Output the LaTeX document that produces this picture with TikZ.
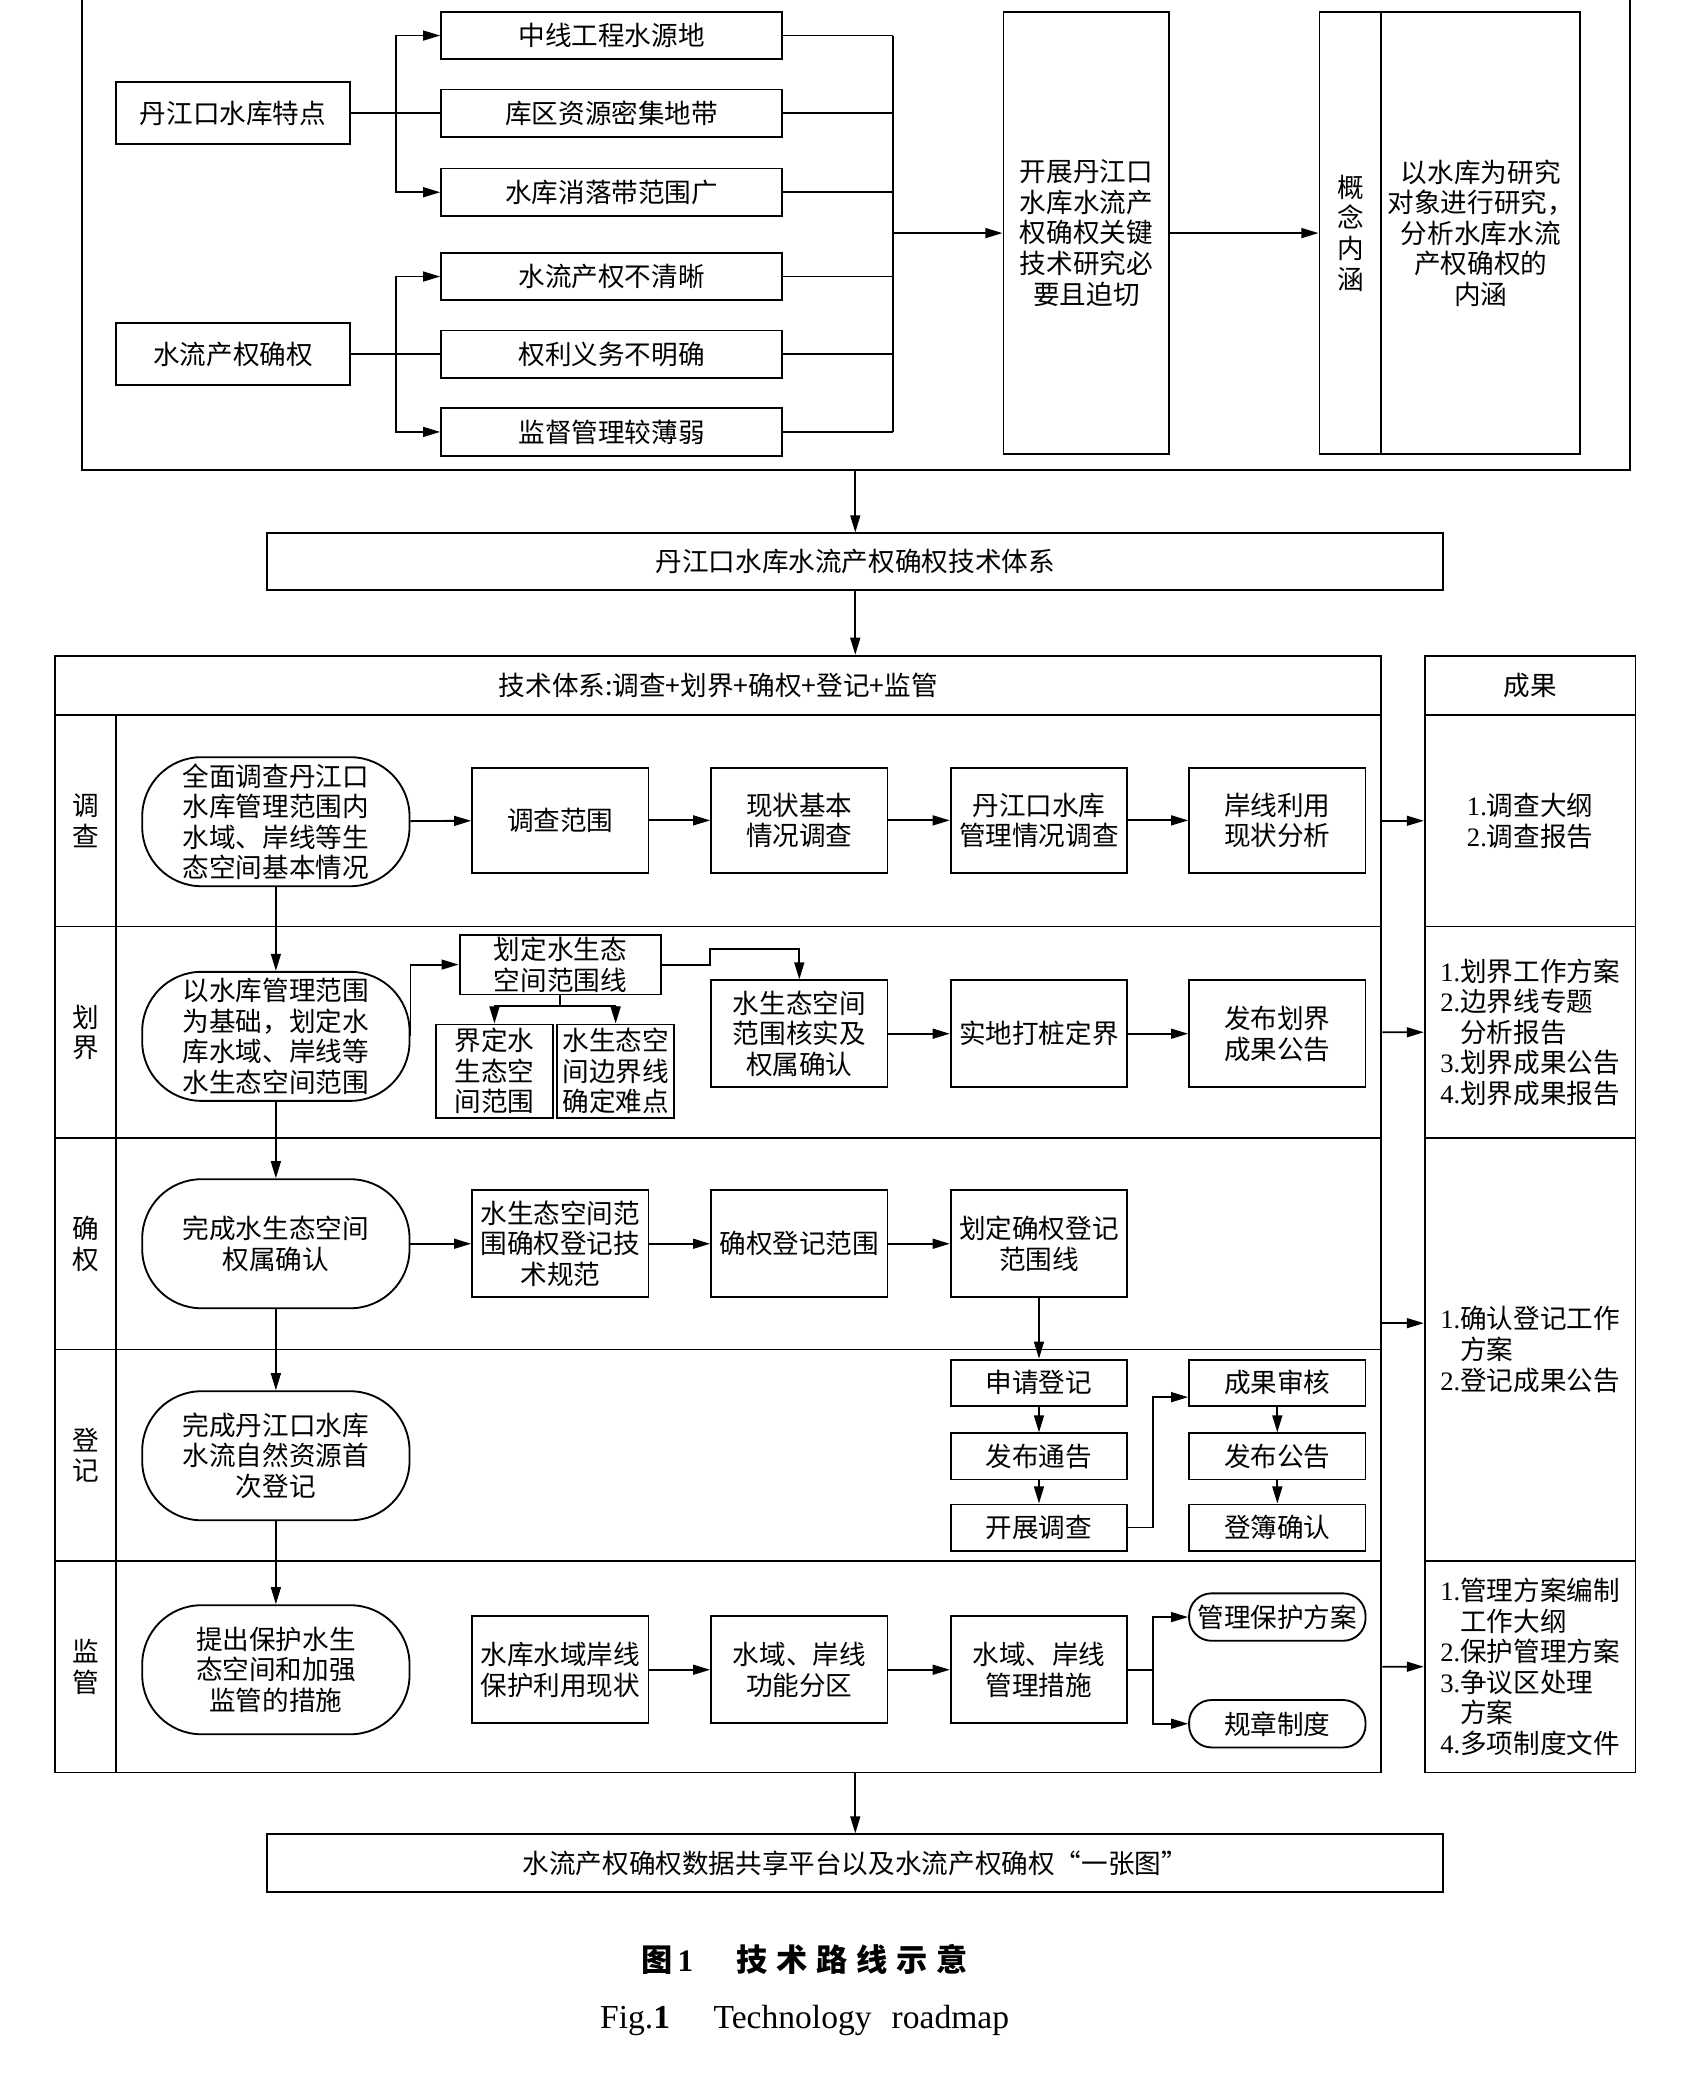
\documentclass[tikz,border=0pt]{standalone}
\usepackage{fontspec}
\setmainfont{Noto Sans CJK SC}
\newfontfamily\tnr{Liberation Serif}
\usepackage{tikz}
\usetikzlibrary{calc, positioning}
\usetikzlibrary{arrows.meta}
\newcommand\fs{\fontsize{11.5}{13.2}\selectfont}
\newcommand\numlab[1]{{\tnr #1}}
\tikzset{
    box/.style = {
        draw, rectangle, line width=0.8pt, align=center, inner sep=1pt, font=\fs
    },
    stad/.style = {box, rounded corners=0.9cm},
    pill/.style = {box, rounded corners=0.34cm},
    sz/.style 2 args = {minimum width={#1*0.02cm}, minimum height={#2*0.02cm}},
}

\begin{document}
\begin{tikzpicture}[x=0.02cm, y=-0.02cm]
        \useasboundingbox (0,0) rectangle (1280,1575);

        % Top block
        \node[box, sz={1176}{380}] (topfr) at (650,167) {};
        \node[box, sz={178}{47}] (tz) at (177,86) {丹江口水库特点};
        \node[box, sz={178}{47}] (qq) at (177,269) {水流产权确权};
        \node[box, sz={259}{36}] (r1) at (464.5,27) {中线工程水源地};
        \node[box, sz={259}{36}] (r2) at (464.5,86) {库区资源密集地带};
        \node[box, sz={259}{36}] (r3) at (464.5,146) {水库消落带范围广};
        \node[box, sz={259}{36}] (r4) at (464.5,210) {水流产权不清晰};
        \node[box, sz={259}{36}] (r5) at (464.5,269) {权利义务不明确};
        \node[box, sz={259}{36}] (r6) at (464.5,328) {监督管理较薄弱};
        \node[box, sz={126}{336}] (kz) at (825,177) {开展丹江口\\水库水流产\\权确权关键\\技术研究必\\要且迫切};
        \node[box, sz={47}{336}] (gn) at (1025.5,177) {概\\念\\内\\涵};
        \node[box, sz={151}{336}] (nh) at (1124.5,177) {以水库为研究\\对象进行研究，\\分析水库水流\\产权确权的\\内涵};
        \node[box, sz={893}{43}] (sys) at (649.5,426.5) {丹江口水库水流产权确权技术体系};

        % Table frame
        \node[box, sz={1007}{45}] (head) at (545.5,520.5) {技术体系:调查+划界+确权+登记+监管};
        \foreach \i/\lab in {1/{调\\查}, 2/{划\\界}, 3/{确\\权}, 4/{登\\记}, 5/{监\\管}}{
            \pgfmathsetmacro\cy{543+160.6*(\i-0.5)}
            \node[box, sz={46}{160.6}] (l\i) at (65,\cy) {\lab};
            \node[box, sz={961}{160.6}] (b\i) at (568.5,\cy) {};
        }
        \node[box, sz={160}{45}] (og) at (1162,520.5) {成果};
        \node[box, sz={160}{160.6}, align=left] (o1) at (1162,623.3) {\numlab{1.}调查大纲\\\numlab{2.}调查报告};
        \node[box, sz={160}{160.6}, align=left] (o2) at (1162,783.9) {\numlab{1.}划界工作方案\\\numlab{2.}边界线专题\\\phantom{\numlab{2.}}分析报告\\\numlab{3.}划界成果公告\\\numlab{4.}划界成果报告};
        \node[box, sz={160}{321.2}, align=left] (o3) at (1162,1024.8) {\numlab{1.}确认登记工作\\\phantom{\numlab{1.}}方案\\\numlab{2.}登记成果公告};
        \node[box, sz={160}{160.6}, align=left] (o4) at (1162,1265.7) {\numlab{1.}管理方案编制\\\phantom{\numlab{1.}}工作大纲\\\numlab{2.}保护管理方案\\\numlab{3.}争议区处理\\\phantom{\numlab{3.}}方案\\\numlab{4.}多项制度文件};

        % Survey lane
        \node[stad, sz={203}{98}] (dc0) at (209.5,624) {全面调查丹江口\\水库管理范围内\\水域、岸线等生\\态空间基本情况};
        \node[box, sz={134}{80}] (dc1) at (425.5,623) {调查范围};
        \node[box, sz={134}{80}] (dc2) at (607,623) {现状基本\\情况调查};
        \node[box, sz={134}{80}] (dc3) at (789,623) {丹江口水库\\管理情况调查};
        \node[box, sz={134}{80}] (dc4) at (970,623) {岸线利用\\现状分析};

        % Boundary lane
        \node[stad, sz={203}{98}] (hj0) at (209.5,787) {以水库管理范围\\为基础，划定水\\库水域、岸线等\\水生态空间范围};
        \node[box, sz={153}{45}] (hj1) at (425.5,732.5) {划定水生态\\空间范围线};
        \node[box, sz={89}{71}] (hj1a) at (375.5,813.5) {界定水\\生态空\\间范围};
        \node[box, sz={89}{71}] (hj1b) at (467.5,813.5) {水生态空\\间边界线\\确定难点};
        \node[box, sz={134}{81}] (hj2) at (607,785) {水生态空间\\范围核实及\\权属确认};
        \node[box, sz={134}{81}] (hj3) at (789,785) {实地打桩定界};
        \node[box, sz={134}{81}] (hj4) at (970,785) {发布划界\\成果公告};

        % Rights lane
        \node[stad, sz={203}{98}] (qr0) at (209.5,944.5) {完成水生态空间\\权属确认};
        \node[box, sz={134}{81}] (qr1) at (425.5,944.5) {水生态空间范\\围确权登记技\\术规范};
        \node[box, sz={134}{81}] (qr2) at (607,944.5) {确权登记范围};
        \node[box, sz={134}{81}] (qr3) at (789,944.5) {划定确权登记\\范围线};

        % Register lane
        \node[stad, sz={203}{98}] (dj0) at (209.5,1105.5) {完成丹江口水库\\水流自然资源首\\次登记};
        \node[box, sz={134}{35}] (dj1) at (789,1050) {申请登记};
        \node[box, sz={134}{35}] (dj2) at (789,1106) {发布通告};
        \node[box, sz={134}{35}] (dj3) at (789,1160) {开展调查};
        \node[box, sz={134}{35}] (dj4) at (970,1050) {成果审核};
        \node[box, sz={134}{35}] (dj5) at (970,1106) {发布公告};
        \node[box, sz={134}{35}] (dj6) at (970,1160) {登簿确认};

        % Supervision lane
        \node[stad, sz={203}{98}] (jg0) at (209.5,1268) {提出保护水生\\态空间和加强\\监管的措施};
        \node[box, sz={134}{81}] (jg1) at (425.5,1268) {水库水域岸线\\保护利用现状};
        \node[box, sz={134}{81}] (jg2) at (607,1268) {水域、岸线\\功能分区};
        \node[box, sz={134}{81}] (jg3) at (789,1268) {水域、岸线\\管理措施};
        \node[pill, sz={134}{36}] (jga) at (970,1228) {管理保护方案};
        \node[pill, sz={134}{36}] (jgb) at (970,1309) {规章制度};

        \node[box, sz={893}{44}] (fin) at (649.5,1415) {水流产权确权数据共享平台以及水流产权确权“一张图”};

        % Caption
        \node (cap) at (611,1488) {\fontsize{13.5}{15}\selectfont\bfseries 图\,{\tnr 1}\hspace{1.4em}技\hspace{.28em}术\hspace{.28em}路\hspace{.28em}线\hspace{.28em}示\hspace{.28em}意};
        \node (capen) at (611,1534) {\tnr\fontsize{14.5}{16}\selectfont Fig.{\bfseries 1}\hspace{1.3em}Technology\hspace{.6em}roadmap};

        % Draw connections
        \begin{scope}[line width=0.8pt, >={Triangle[length=2.6mm,width=1.5mm]}]
            \coordinate (ta) at ($(tz.east)!0.5!(r2.west)$);
            \draw (tz.east) -- (r2.west);
            \draw[->] (ta) |- (r1.west);
            \draw[->] (ta) |- (r3.west);
            \coordinate (tb) at ($(qq.east)!0.5!(r5.west)$);
            \draw (qq.east) -- (r5.west);
            \draw[->] (tb) |- (r4.west);
            \draw[->] (tb) |- (r6.west);
            \coordinate (tc) at ($(r1.east)!0.5!(kz.west)$);
            \foreach \i in {1,...,6}
                \draw (r\i.east) -- (r\i.east -| tc);
            \draw (r1.east -| tc) -- (r6.east -| tc);
            \draw[->] (tc |- kz.west) -- (kz.west);
            \draw[->] (kz.east) -- (gn.west);
            \draw[->] (topfr.south -| sys.north) -- (sys.north);
            \draw[->] (sys.south) -- (sys.south |- head.north);

            % lanes
            \draw[->] (dc0) -- (dc1);
            \draw[->] (dc1) -- (dc2);
            \draw[->] (dc2) -- (dc3);
            \draw[->] (dc3) -- (dc4);
            \draw[->] (dc0.south) -- (hj0.north);
            \draw[->] (hj0.east) |- (hj1.west);
            \draw (hj1.south) -- ++(0,8) coordinate (hjs);
            \draw (hjs -| hj1a) -- (hjs -| hj1b);
            \draw[->] (hjs -| hj1a) -- (hj1a.north);
            \draw[->] (hjs -| hj1b) -- (hj1b.north);
            \draw[->] (hj1.east) -- (hj1.east -| hj2.west) -- ++(0,-12) -| (hj2.north);
            \draw[->] (hj2) -- (hj3);
            \draw[->] (hj3) -- (hj4);
            \draw[->] (hj0.south) -- (qr0.north);
            \draw[->] (qr0) -- (qr1);
            \draw[->] (qr1) -- (qr2);
            \draw[->] (qr2) -- (qr3);
            \draw[->] (qr3.south) -- (dj1.north);
            \draw[->] (qr0.south) -- (dj0.north);
            \draw[->] (dj1) -- (dj2);
            \draw[->] (dj2) -- (dj3);
            \draw[->] (dj4) -- (dj5);
            \draw[->] (dj5) -- (dj6);
            \draw[->] (dj3.east) -- ++(19,0) |- ([yshift=-0.22cm]dj4.west);
            \draw[->] (dj0.south) -- (jg0.north);
            \draw[->] (jg1) -- (jg2);
            \draw[->] (jg2) -- (jg3);
            \draw (jg3.east) -- ++(19,0) coordinate (jgs);
            \draw[->] (jgs) |- (jga.west);
            \draw[->] (jgs) |- (jgb.west);

            % results
            \draw[->] (b1.east) -- (o1.west);
            \draw[->] (b2.east) -- (o2.west);
            \draw[->] ([yshift=0.4cm]b3.east |- o3.west) -- ([yshift=0.4cm]o3.west);
            \draw[->] (b5.east) -- (o4.west);
            \draw[->] (fin.north |- b5.south) -- (fin.north);
        \end{scope}
    \end{tikzpicture}
\end{document}
